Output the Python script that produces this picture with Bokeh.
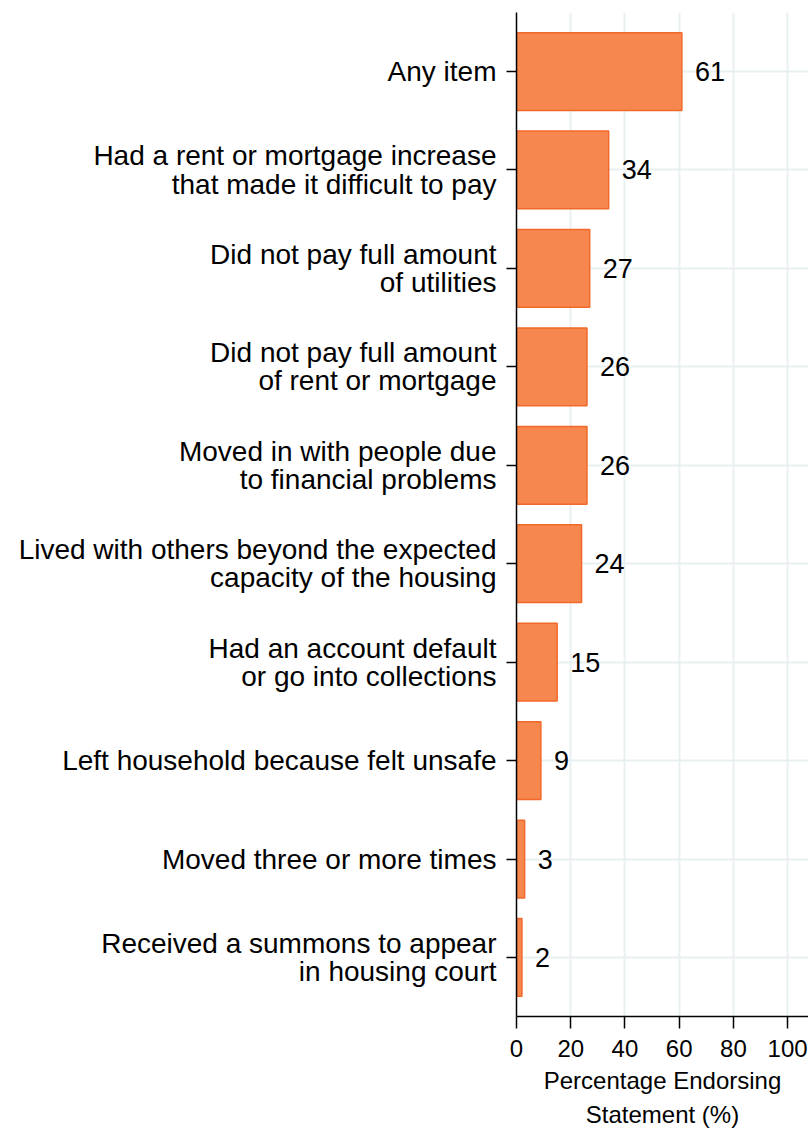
from bokeh.plotting import figure
from bokeh.models import ColumnDataSource, FixedTicker, Range1d, Title
from bokeh.core.properties import value
from bokeh.embed import file_html
from bokeh.resources import INLINE

categories = [
    "Any item",
    "Had a rent or mortgage increase\nthat made it difficult to pay",
    "Did not pay full amount\nof utilities",
    "Did not pay full amount\nof rent or mortgage",
    "Moved in with people due\nto financial problems",
    "Lived with others beyond the expected\ncapacity of the housing",
    "Had an account default\nor go into collections",
    "Left household because felt unsafe",
    "Moved three or more times",
    "Received a summons to appear\nin housing court",
]
values = [61, 34, 27, 26, 26, 24, 15, 9, 3, 2]
x_ticks = [0, 20, 40, 60, 80, 100]
x_title = ["Percentage Endorsing", "Statement (%)"]

FONT = "Liberation Sans"
LINE_STEP = 0.285  # spacing between the two lines of a label, in category units

n = len(categories)
ypos = [n - 1 - i for i in range(n)]  # first category at the top

src = ColumnDataSource(dict(y=ypos, val=values, lab=[str(v) for v in values]))

# one tick per label line, so that the line spacing is controlled
label_ticks = []
overrides = {}
for yc, cat in zip(ypos, categories):
    lines = cat.split("\n")
    k = len(lines)
    for j, line in enumerate(lines):
        t = round(yc + ((k - 1) / 2 - j) * LINE_STEP, 4)
        label_ticks.append(t)
        overrides[t] = line

p = figure(
    width=808, height=1129,
    y_range=Range1d(-0.6, n - 0.4),
    x_range=Range1d(0, 107.7),
    output_backend="svg", toolbar_location=None,
    min_border_left=516, min_border_top=12, min_border_right=0, min_border_bottom=113,
)
p.outline_line_color = None
p.background_fill_color = "white"
p.border_fill_color = "white"

p.hbar(y="y", right="val", left=0, height=0.79, source=src,
       fill_color="#f5874f", line_color="#f26a2b", line_width=1.5)

p.text(x="val", y="y", text="lab", source=src, x_offset=13,
       text_baseline="middle", text_align="left",
       text_font=value(FONT), text_font_size="27px", text_color="black")

p.xaxis.ticker = FixedTicker(ticks=x_ticks)
for i, line in enumerate(x_title):
    p.add_layout(Title(text=line, align="center", vertical_align="bottom",
                       standoff=10 if i == 0 else 0,
                       text_font=FONT, text_font_size="24px",
                       text_font_style="normal", text_color="black"), "below")

p.yaxis.ticker = FixedTicker(ticks=label_ticks, minor_ticks=ypos)
p.yaxis.major_label_overrides = overrides

for ax in (p.xaxis, p.yaxis):
    ax.axis_line_color = "black"
    ax.axis_line_width = 1.5
    ax.major_tick_line_width = 1.5
    ax.major_tick_in = 0
    ax.major_label_text_font = FONT
    ax.major_label_text_color = "black"

p.xaxis.major_tick_line_color = "black"
p.xaxis.minor_tick_line_color = None
p.xaxis.major_label_text_font_size = "24px"
p.xaxis.major_tick_out = 12
p.xaxis.major_label_standoff = 11

p.yaxis.major_tick_line_color = None
p.yaxis.major_tick_out = 10
p.yaxis.major_label_standoff = 10
p.yaxis.major_label_text_font_size = "28px"
p.yaxis.minor_tick_line_color = "black"
p.yaxis.minor_tick_line_width = 1.5
p.yaxis.minor_tick_in = 0
p.yaxis.minor_tick_out = 10

p.xgrid.grid_line_color = "#e8f0f2"
p.xgrid.grid_line_width = 2
p.ygrid.ticker = FixedTicker(ticks=ypos)
p.ygrid.grid_line_color = "#e8f0f2"
p.ygrid.grid_line_width = 2

open("out.html", "w").write(file_html(p, INLINE))
